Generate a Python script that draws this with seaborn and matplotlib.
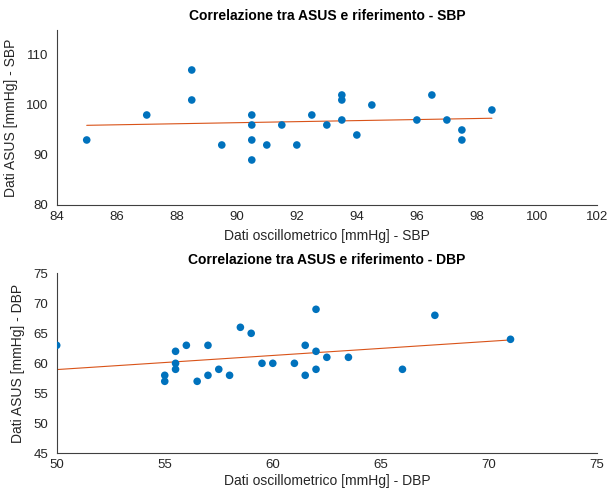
import numpy as np
import pandas as pd
import matplotlib
matplotlib.use("Agg")
import matplotlib.pyplot as plt
import seaborn as sns

sns.set_style("white")
plt.rcParams['font.family'] = ['Liberation Sans', 'DejaVu Sans']

# SBP data
sbp_ref = [85, 87, 88.5, 88.5, 89.5, 90.5, 90.5, 90.5, 90.5, 91, 91.5, 92, 92.5, 93,
           93.5, 93.5, 93.5, 94, 94.5, 96, 96.5, 97, 97.5, 97.5, 98.5]
sbp_asus = [93, 98, 107, 101, 92, 98, 96, 93, 89, 92, 96, 92, 98, 96,
            102, 101, 97, 94, 100, 97, 102, 97, 95, 93, 99]

# DBP data
dbp_ref = [50, 55, 55, 55.5, 55.5, 55.5, 56, 56.5, 57, 57, 57.5, 58, 58.5, 59, 59.5, 60,
           61, 61.5, 61.5, 62, 62, 62, 62.5, 63.5, 66, 67.5, 71]
dbp_asus = [63, 58, 57, 62, 60, 59, 63, 57, 63, 58, 59, 58, 66, 65, 60, 60,
            60, 63, 58, 69, 62, 59, 61, 61, 59, 68, 64]

sbp_xticks = [84, 86, 88, 90, 92, 94, 96, 98, 100, 102]
sbp_yticks = [80, 90, 100, 110]
dbp_xticks = [50, 55, 60, 65, 70, 75]
dbp_yticks = [45, 50, 55, 60, 65, 70, 75]

BLUE = '#0072BD'
ORANGE = '#D95319'
AX = '#262626'

fig = plt.figure(figsize=(6.11, 4.95), dpi=100)
ax1 = fig.add_axes([0.0928, 0.5859, 0.8842, 0.3535])
ax2 = fig.add_axes([0.0928, 0.0842, 0.8842, 0.3637])

def panel(ax, x, y, xlim, ylim, xticks, yticks, title, xlabel, ylabel, xlp):
    df = pd.DataFrame({'x': x, 'y': y})
    sns.scatterplot(data=df, x='x', y='y', ax=ax, color=BLUE, s=30,
                    edgecolor='none', zorder=3)
    p = np.polyfit(df['x'], df['y'], 1)
    xl = np.array([df['x'].min(), df['x'].max()])
    fit = pd.DataFrame({'x': xl, 'y': np.polyval(p, xl)})
    sns.lineplot(data=fit, x='x', y='y', ax=ax, color=ORANGE, linewidth=0.8, zorder=2)
    ax.set_xlim(*xlim)
    ax.set_ylim(*ylim)
    ax.set_xticks(xticks)
    ax.set_yticks(yticks)
    ax.set_title(title, fontsize=10, fontweight='bold', color='black', pad=7)
    ax.set_xlabel(xlabel, fontsize=10, color=AX, labelpad=xlp)
    ax.set_ylabel(ylabel, fontsize=10, color=AX, labelpad=6)
    for s in ['top', 'right']:
        ax.spines[s].set_visible(False)
    for s in ['left', 'bottom']:
        ax.spines[s].set_color('#404040')
        ax.spines[s].set_linewidth(0.8)
    ax.tick_params(direction='in', length=4, width=0.6, colors='#404040',
                   labelsize=9.5, labelcolor=AX)
    ax.tick_params(axis='x', pad=4)
    ax.tick_params(axis='y', pad=6)

panel(ax1, sbp_ref, sbp_asus, (84, 102), (80, 115), sbp_xticks, sbp_yticks,
      'Correlazione tra ASUS e riferimento - SBP',
      'Dati oscillometrico [mmHg] - SBP', 'Dati ASUS [mmHg] - SBP', 5)
panel(ax2, dbp_ref, dbp_asus, (50, 75), (45, 75), dbp_xticks, dbp_yticks,
      'Correlazione tra ASUS e riferimento - DBP',
      'Dati oscillometrico [mmHg] - DBP', 'Dati ASUS [mmHg] - DBP', 2)

fig.savefig('out.png', dpi=100)
